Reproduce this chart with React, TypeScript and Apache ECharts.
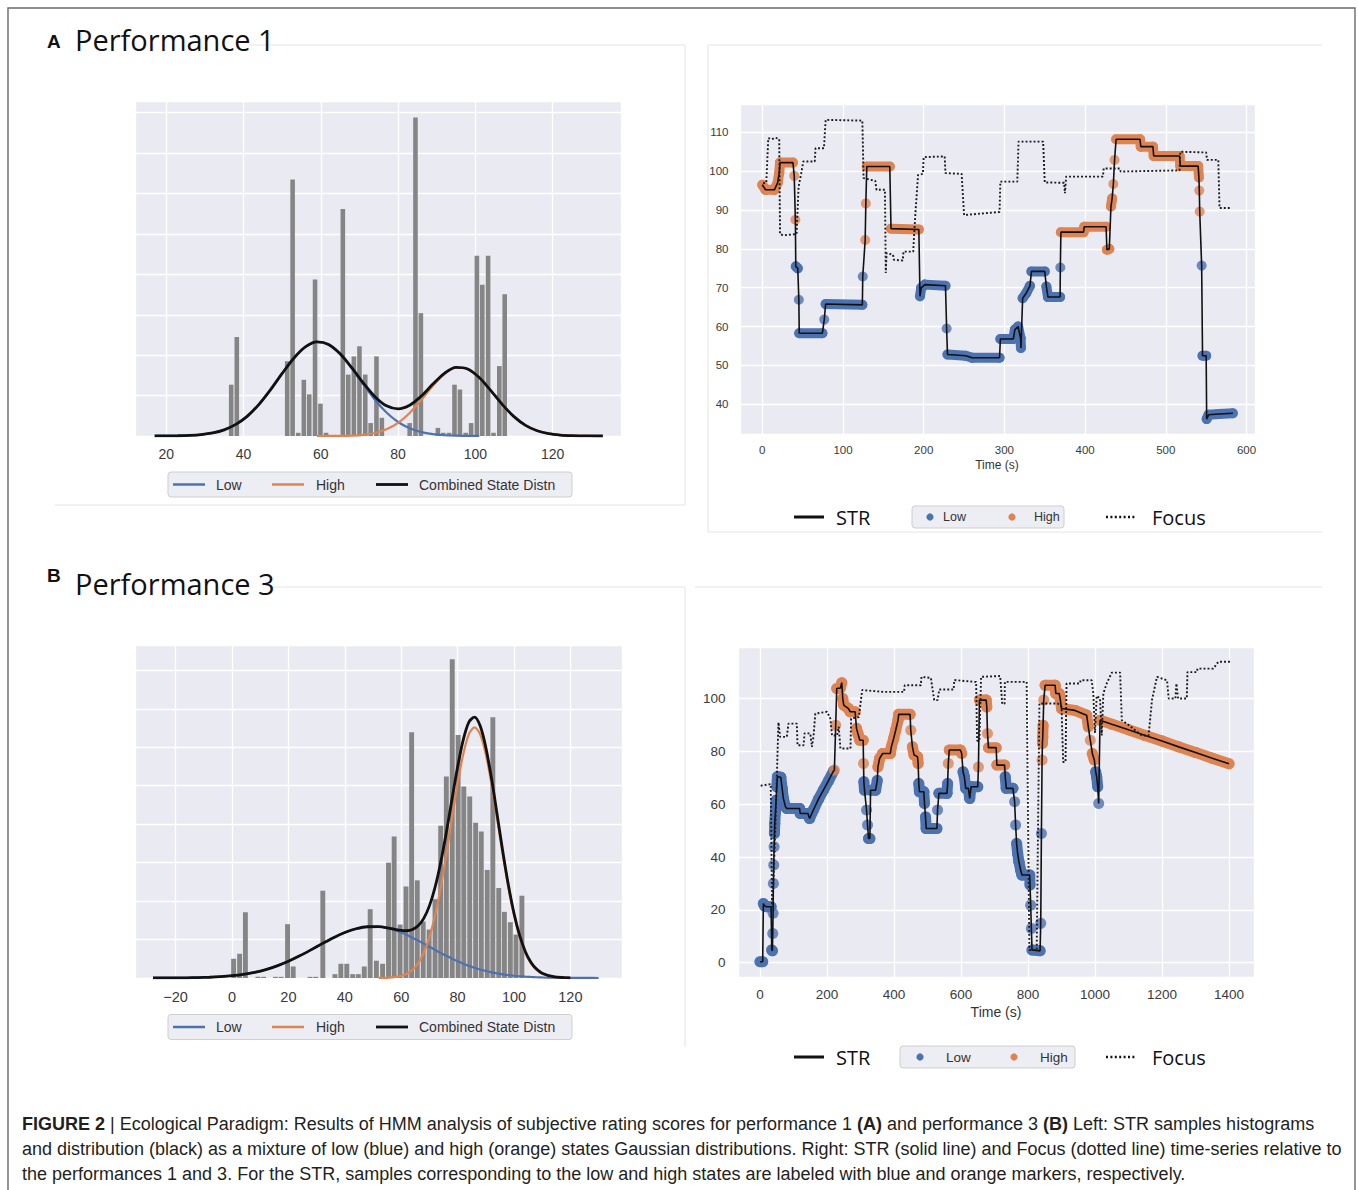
import React, { useEffect, useRef } from "react";
import * as echarts from "echarts";

// ---------------- Panel A (performance 1) histogram ----------------
const HIST1_BIN = 1.445;
const HIST1_X = [36.8, 38.25, 51.3, 52.7, 54.15, 55.6, 57.0, 58.5, 59.9, 61.35, 65.7, 67.1, 68.55, 70.0, 71.5, 72.9, 74.4, 75.8, 83.0, 84.5, 85.9, 90.3, 91.7, 93.2, 94.6, 96.0, 97.5, 98.9, 100.4, 101.8, 103.3, 104.7, 106.2, 107.6];
const HIST1_H = [1.27, 2.45, 1.85, 6.35, 0.08, 1.39, 1.03, 3.87, 0.8, 0.08, 5.62, 1.52, 1.97, 2.22, 1.52, 0.32, 1.97, 0.45, 0.32, 7.88, 3.04, 0.2, 0.08, 0.08, 1.27, 1.15, 0.08, 0.32, 4.46, 3.74, 4.46, 0.08, 1.73, 3.51];

const CURVE1_X = [17, 20, 23, 26, 29, 32, 35, 38, 41, 44, 47, 50, 53, 56, 59, 62, 65, 68, 71, 74, 77, 80, 83, 86, 89, 92, 95, 98, 101, 104, 107, 110, 113, 116, 119, 122, 125, 128, 131, 133];
const LOW1_X = [17, 20, 23, 26, 29, 32, 35, 38, 41, 44, 47, 50, 53, 56, 59, 62, 65, 68, 71, 74, 77, 80, 83, 86, 89, 92, 95, 98, 101];
const LOW1 = [0.0007, 0.002, 0.0056, 0.0144, 0.034, 0.075, 0.153, 0.287, 0.493, 0.784, 1.147, 1.548, 1.924, 2.204, 2.327, 2.265, 2.031, 1.679, 1.279, 0.898, 0.581, 0.346, 0.19, 0.096, 0.045, 0.019, 0.0077, 0.0028, 0.0009];
const HIGH1_X = [59, 62, 65, 68, 71, 74, 77, 80, 83, 86, 89, 92, 95, 98, 101, 104, 107, 110, 113, 116, 119, 122, 125, 128, 131, 133];
const HIGH1 = [0.0002, 0.001, 0.0034, 0.0108, 0.03, 0.075, 0.165, 0.325, 0.571, 0.891, 1.239, 1.533, 1.689, 1.656, 1.447, 1.125, 0.778, 0.48, 0.263, 0.129, 0.056, 0.0217, 0.0075, 0.0023, 0.0006, 0.0002];
const COMB1 = [0.0007, 0.002, 0.0056, 0.0144, 0.034, 0.075, 0.153, 0.287, 0.493, 0.784, 1.147, 1.548, 1.924, 2.204, 2.327, 2.266, 2.034, 1.69, 1.309, 0.973, 0.746, 0.671, 0.761, 0.987, 1.284, 1.552, 1.697, 1.659, 1.448, 1.125, 0.778, 0.48, 0.263, 0.129, 0.056, 0.022, 0.0075, 0.0023, 0.0006, 0.0002];

// ---------------- Panel B (performance 3) histogram ----------------
const HIST2_BIN = 2.07;
const HIST2_X = [0.57, 2.69, 4.75, 9.2, 11.2, 15.4, 17.4, 19.7, 21.7, 27.7, 29.7, 32.2, 36.5, 38.6, 40.7, 42.8, 44.8, 46.9, 49.0, 51.2, 53.4, 55.5, 57.5, 59.6, 61.7, 63.7, 65.7, 67.8, 69.9, 72.0, 74.0, 76.0, 78.1, 80.2, 82.2, 84.3, 86.4, 88.4, 90.5, 92.5, 94.6, 96.6, 98.7, 100.7, 102.8];
const HIST2_H = [0.5, 0.63, 1.71, 0.03, 0.03, 0.03, 0.03, 1.4, 0.3, 0.03, 0.03, 2.27, 0.1, 0.37, 0.37, 0.1, 0.1, 0.3, 1.79, 0.45, 0.37, 3.0, 3.68, 1.39, 2.38, 6.39, 2.54, 1.47, 1.26, 2.05, 3.96, 5.24, 8.29, 6.32, 4.98, 4.72, 4.04, 3.81, 2.81, 6.78, 2.34, 1.72, 1.45, 1.13, 2.14];

const COMB2_X = [-28, -24, -20, -16, -12, -8, -4, 0, 4, 8, 12, 16, 20, 24, 28, 32, 36, 40, 44, 48, 52, 56, 60, 62, 64, 66, 68, 70, 72, 74, 76, 78, 80, 82, 84, 86, 88, 90, 92, 94, 96, 98, 100, 102, 104, 106, 108, 110, 114, 118, 120];
const COMB2 = [0.0007, 0.0014, 0.0029, 0.0058, 0.011, 0.02, 0.035, 0.059, 0.095, 0.148, 0.22, 0.316, 0.435, 0.576, 0.732, 0.894, 1.049, 1.182, 1.281, 1.333, 1.335, 1.292, 1.236, 1.229, 1.26, 1.356, 1.55, 1.876, 2.358, 3.001, 3.784, 4.646, 5.486, 6.193, 6.654, 6.785, 6.558, 6.002, 5.199, 4.262, 3.303, 2.424, 1.685, 1.109, 0.691, 0.41, 0.231, 0.125, 0.033, 0.0087, 0.0038];
const LOW2_X = [-28, -24, -20, -16, -12, -8, -4, 0, 4, 8, 12, 16, 20, 24, 28, 32, 36, 40, 44, 48, 52, 56, 60, 62, 64, 66, 68, 70, 72, 74, 76, 78, 80, 82, 84, 86, 88, 90, 92, 94, 96, 98, 100, 102, 104, 106, 108, 110, 114, 118, 122, 126, 130];
const LOW2 = [0.0007, 0.0014, 0.0029, 0.0058, 0.011, 0.02, 0.035, 0.059, 0.095, 0.148, 0.22, 0.316, 0.435, 0.576, 0.732, 0.894, 1.049, 1.182, 1.281, 1.333, 1.333, 1.281, 1.182, 1.119, 1.049, 0.973, 0.894, 0.813, 0.732, 0.652, 0.576, 0.503, 0.435, 0.372, 0.316, 0.265, 0.22, 0.181, 0.148, 0.119, 0.095, 0.075, 0.059, 0.046, 0.035, 0.027, 0.02, 0.015, 0.008, 0.0041, 0.002, 0.001, 0.0004];
const HIGH2_X = [52, 56, 60, 62, 64, 66, 68, 70, 72, 74, 76, 78, 80, 82, 84, 86, 88, 90, 92, 94, 96, 98, 100, 102, 104, 106, 108, 110, 114, 118, 120];
const HIGH2 = [0.0018, 0.011, 0.054, 0.11, 0.211, 0.383, 0.656, 1.063, 1.626, 2.349, 3.208, 4.143, 5.051, 5.821, 6.338, 6.52, 6.338, 5.821, 5.051, 4.143, 3.208, 2.349, 1.626, 1.063, 0.656, 0.383, 0.211, 0.11, 0.025, 0.0046, 0.0018];

// ---------------- Panel A time series ----------------
const STR1_T = [0, 4, 15, 19, 21, 22, 38, 39.6, 41, 41.5, 44, 45.3, 45.8, 74.5, 76.8, 78.5, 124, 124.5, 127.5, 128.3, 129.5, 158, 159.5, 194, 195.4, 197, 201.6, 227, 228.4, 229.5, 252, 260, 294, 295, 311, 313, 317, 320, 320.5, 322.6, 327, 331.7, 333.5, 350, 352, 354, 369, 369.3, 370, 398, 399, 426, 427, 430, 432, 433.5, 435, 436.5, 438.4, 468, 469, 484, 485, 517, 518, 540, 541, 541.5, 542, 544.4, 545.5, 550, 550.6, 553, 566, 583];
const STR1_V = [96.5, 95.2, 95.2, 97, 99.5, 102.2, 102.2, 98.8, 87.5, 75.5, 75, 66.9, 58.3, 58.3, 61.8, 65.8, 65.6, 72.9, 82.3, 91.7, 101.2, 101.2, 85.2, 85, 67.8, 70, 70.8, 70.5, 59.5, 52.8, 52.5, 52, 52, 56.8, 56.8, 59.2, 60, 57, 54.5, 67.3, 68.6, 70.5, 74.2, 74.2, 70.3, 67.6, 67.6, 75.2, 84.3, 84.3, 85.7, 85.7, 79.8, 80, 90.9, 93, 96.7, 102.9, 108.2, 108.2, 106.3, 106.3, 103.9, 103.9, 101.3, 101.3, 98.4, 95, 89.6, 75.7, 52.5, 52.5, 36.2, 37.3, 37.5, 37.7];
// state of each STR sample: 0 = low, 1 = high
const STR1_S = [
  1, 1, 1, 1, 1, 1, 1, 1, 1,
  0, 0, 0, 0, 0, 0, 0, 0, 0,
  1, 1, 1, 1, 1, 1,
  0, 0, 0, 0, 0, 0, 0, 0, 0, 0, 0, 0, 0, 0, 0, 0, 0, 0, 0, 0, 0, 0, 0, 0,
  1, 1, 1, 1, 1, 1, 1, 1, 1, 1, 1, 1, 1, 1, 1, 1, 1, 1, 1, 1, 1,
  0, 0, 0, 0, 0, 0, 0,
];
const FOCUS1_T = [1, 5, 7.4, 12, 16, 21, 22, 26, 42.5, 45, 48.7, 50.8, 65, 66, 76.4, 78.5, 124, 125.5, 140, 141.5, 152, 153, 154, 162, 163, 174, 175, 187, 190, 193, 199, 200, 226, 227, 247, 250, 294, 295, 316, 317.5, 348, 350, 374, 375, 376.5, 422, 423, 443, 444, 517, 518, 550, 551, 565, 566.5, 581];
const FOCUS1_V = [96.9, 97, 108.5, 108.2, 108.6, 108.3, 83.8, 83.5, 83.8, 96, 99.9, 102.5, 102.5, 105.9, 105.9, 113.2, 113, 98.2, 97.5, 95.2, 95.2, 73.8, 78.9, 78.5, 77.2, 77, 79.3, 79.3, 90, 99, 99.3, 103.6, 103.8, 99.5, 99.3, 88.7, 89.5, 97.3, 97.3, 107.6, 107.6, 97.1, 97, 94.3, 98.6, 98.6, 100.7, 100.7, 99.9, 100.2, 105, 104.8, 102.9, 102.9, 90.5, 90.5];

// ---------------- Panel B time series ----------------
const STR2_T = [
  0, 8, 10, 14, 20, 33, 35, 37, 38, 39, 40, 41, 42, 43, 44, 46, 48, 50, 52, 62, 66, 70, 76, 80, 118, 120, 143, 148, 160, 175, 190, 205, 219,
  222, 226, 229, 240, 244, 247, 250, 264, 269, 284, 288, 292, 298, 308, 309,
  310, 312, 318, 321, 324, 328, 330, 345, 350,
  352, 357, 366, 389, 392, 399, 405, 412, 414, 448, 450, 455, 460, 470, 472,
  474, 476, 489, 491, 494, 496, 528, 530, 534, 558, 560,
  562, 565, 598, 602,
  606, 610, 614, 622, 626, 630, 650,
  652, 655, 675, 677, 679, 682, 705, 707, 730,
  732, 735, 755, 760, 763, 766, 769, 773, 778, 782, 805, 806, 808, 810, 812, 836, 838, 840,
  842, 843, 844, 845, 847, 851, 881, 883, 893, 896, 900, 940, 975, 980, 986, 992, 998,
  1002, 1005, 1008, 1011,
  1015, 1050, 1100, 1150, 1200, 1250, 1300, 1350, 1400,
];
const STR2_V = [
  0.4, 0.4, 22.4, 21.5, 21.2, 21.2, 4.8, 4.5, 11.1, 18.7, 30, 37, 43.9, 48.9, 52.7, 57.1, 61.5, 66.6, 70.4, 70.2, 66, 62, 59, 58.4, 58.4, 56.5, 56.5, 54.6, 58, 62, 65.5, 69, 72.5,
  72.9, 89.9, 103.8, 104, 106, 100, 97.5, 96.2, 95, 95, 88.7, 86.8, 84.2, 84.2, 75.4,
  68.5, 65.3, 57.8, 52.1, 47, 47, 65.3, 65.3, 69,
  74.1, 77.3, 79.2, 79.2, 81.7, 84.9, 88, 91.8, 94, 94, 88, 81.7, 78.6, 78, 75.4,
  67.8, 64.7, 64.7, 60.3, 55.2, 50.8, 50.8, 57.8, 64.1, 64.1, 67.8,
  75.4, 80.5, 80.5, 79.2,
  72.3, 70.4, 66, 66, 62.2, 66.6, 66.6,
  74.1, 99.4, 99.4, 96.8, 86.8, 81.4, 81.4, 74.8, 74.8,
  70.4, 66, 66, 60.9, 52.1, 45.1, 41.4, 38.2, 35.1, 33.2, 33.2, 29.4, 21.8, 13, 4.8, 4.5, 14.9, 48.9,
  76.7, 83, 85.5, 89.9, 99.4, 105, 105, 101.9, 101.9, 100, 96.2, 95.5, 93.7, 89.3, 84.2, 79.2, 76.7,
  72.3, 70.4, 66.6, 60.3,
  91.8, 90.3, 88.2, 86, 83.9, 81.7, 79.6, 77.4, 75.3,
];
const STR2_S = [
  0, 0, 0, 0, 0, 0, 0, 0, 0, 0, 0, 0, 0, 0, 0, 0, 0, 0, 0, 0, 0, 0, 0, 0, 0, 0, 0, 0, 0, 0, 0, 0, 0,
  1, 1, 1, 1, 1, 1, 1, 1, 1, 1, 1, 1, 1, 1, 1,
  0, 0, 0, 0, 0, 0, 0, 0, 0,
  1, 1, 1, 1, 1, 1, 1, 1, 1, 1, 1, 1, 1, 1, 1,
  0, 0, 0, 0, 0, 0, 0, 0, 0, 0, 0,
  1, 1, 1, 1,
  0, 0, 0, 0, 0, 0, 0,
  1, 1, 1, 1, 1, 1, 1, 1, 1,
  0, 0, 0, 0, 0, 0, 0, 0, 0, 0, 0, 0, 0, 0, 0, 0, 0, 0,
  1, 1, 1, 1, 1, 1, 1, 1, 1, 1, 1, 1, 1, 1, 1, 1, 1,
  0, 0, 0, 0,
  1, 1, 1, 1, 1, 1, 1, 1, 1,
];
const FOCUS2_T = [2, 32, 36, 40, 48, 52, 55, 60, 80, 85, 110, 112, 130, 133, 150, 155, 160, 165, 200, 210, 215, 230, 235, 240, 270, 272, 295, 305, 370, 430, 432, 480, 482, 510, 520, 530, 535, 578, 580, 640, 645, 648, 655, 660, 717, 723, 730, 731, 796, 804, 826, 834, 889, 900, 905, 912, 915, 955, 957, 990, 995, 1000, 1005, 1015, 1020, 1025, 1035, 1050, 1075, 1080, 1100, 1120, 1140, 1160, 1170, 1185, 1215, 1220, 1240, 1243, 1248, 1274, 1276, 1304, 1306, 1353, 1368, 1403];
const FOCUS2_V = [67, 67.6, 21, 30, 60, 78, 91, 85.5, 85.5, 90.5, 90.5, 82.3, 82.3, 86.8, 86.8, 81.7, 86, 94.3, 95, 92.4, 86, 86, 89.3, 81.1, 81.1, 92.4, 93, 103.2, 102.5, 102.5, 105, 105, 108.2, 107.8, 99.4, 99.4, 103.4, 103.4, 107, 106.3, 106.3, 84, 84, 108.2, 108.5, 98, 98, 106.3, 106.3, 4.8, 4.8, 98.1, 98.1, 97, 76, 76, 105.7, 105.7, 106.9, 106.9, 101.9, 87, 101, 100, 86, 102, 105.7, 109.8, 109.8, 91.8, 90, 88, 86, 86, 99.4, 108.2, 106.9, 100, 100, 105.7, 100, 100, 110, 110, 111.3, 111.3, 113.9, 113.9];

// ---------------- Text ----------------
const HIST_LEGEND = ["Low", "High", "Combined State Distn"];
const CAPTION = [
  "{b|FIGURE 2} | Ecological Paradigm: Results of HMM analysis of subjective rating scores for performance 1 {b|(A)} and performance 3 {b|(B)} Left: STR samples histograms",
  "and distribution (black) as a mixture of low (blue) and high (orange) states Gaussian distributions. Right: STR (solid line) and Focus (dotted line) time-series relative to",
  "the performances 1 and 3. For the STR, samples corresponding to the low and high states are labeled with blue and orange markers, respectively.",
];

// ---------------- Styles ----------------
const BLUE = "#4C72B0";
const ORANGE = "#DD8452";
const BG = "#EAEAF2";
const BAR = "#858585";
const TICK = "#3a3a3a";
const SANS = "'Liberation Sans', Arial, Helvetica, sans-serif";
const HUM = "'Open Sans', 'Noto Sans', sans-serif";
const CAP_SIZE = 18;

const zip = (xs: number[], ys: number[]) => xs.map((x, i) => [x, ys[i]]);

function histRender(halfW: number) {
  return (_p: any, api: any) => {
    const c = api.value(0);
    const h = api.value(1);
    const a = api.coord([c - halfW, 0]);
    const b = api.coord([c + halfW, h]);
    return {
      type: "rect",
      shape: { x: a[0], y: b[1], width: b[0] - a[0], height: a[1] - b[1] },
      style: { fill: BAR },
    };
  };
}

function bandData(T: number[], V: number[], S: number[]) {
  const out: number[][] = [];
  for (let i = 0; i < T.length - 1; i++) {
    if (S[i] === S[i + 1]) out.push([T[i], V[i], T[i + 1], V[i + 1], S[i]]);
  }
  return out;
}

function bandRender(width: number) {
  return (_p: any, api: any) => {
    const p0 = api.coord([api.value(0), api.value(1)]);
    const p1 = api.coord([api.value(2), api.value(3)]);
    const dx = Math.abs(p1[0] - p0[0]);
    const dy = Math.abs(p1[1] - p0[1]);
    if (dy > Math.max(12, 2.2 * dx)) return { type: "group", children: [] };
    return {
      type: "line",
      shape: { x1: p0[0], y1: p0[1], x2: p1[0], y2: p1[1] },
      style: { stroke: api.value(4) ? ORANGE : BLUE, lineWidth: width, lineCap: "round" },
    };
  };
}

function pick(T: number[], V: number[], S: number[], s: number) {
  const out: number[][] = [];
  T.forEach((t, i) => {
    if (S[i] === s) out.push([t, V[i]]);
  });
  return out;
}

const minus = (v: number) => (v < 0 ? "\u2212" + Math.abs(v) : String(v));

function axis(gridIndex: number, min: number, max: number, step: number, label: any) {
  return {
    type: "value",
    gridIndex,
    min,
    max,
    minInterval: step,
    maxInterval: step,
    axisLine: { show: false },
    axisTick: { show: false },
    splitLine: { show: true, lineStyle: { color: "#ffffff", width: 1.3 } },
    axisLabel: label
      ? { show: true, showMinLabel: false, showMaxLabel: false, color: TICK, fontFamily: SANS, formatter: minus, ...label }
      : { show: false },
  };
}

function txt(x: number, y: number, text: string, size: number, o: any = {}) {
  return {
    type: "text",
    x,
    y,
    style: {
      text,
      fontSize: size,
      fontFamily: o.family || SANS,
      fontWeight: o.weight || "normal",
      fill: o.fill || "#333",
      align: o.align || "left",
      verticalAlign: "middle",
      textAlign: o.align || "left",
      textVerticalAlign: "middle",
      rich: o.rich,
    },
  };
}

function seg(x1: number, y1: number, x2: number, y2: number, stroke: string, lineWidth: number, dash?: number[]) {
  return {
    type: "line",
    shape: { x1, y1, x2, y2 },
    style: { stroke, lineWidth, lineDash: dash || null, lineCap: "butt" },
  };
}

function histLegend(y: number) {
  const els: any[] = [
    { type: "rect", shape: { x: 168, y: y - 12.5, width: 404, height: 25, r: 3 }, style: { fill: "rgba(234,234,242,0.85)", stroke: "#cfcfcf", lineWidth: 1 } },
    seg(173, y, 205, y, BLUE, 2.5),
    txt(216, y, HIST_LEGEND[0], 14),
    seg(272, y, 304, y, ORANGE, 2.5),
    txt(316, y, HIST_LEGEND[1], 14),
    seg(376, y, 408, y, "#111", 2.8),
    txt(419, y, HIST_LEGEND[2], 14),
  ];
  return els;
}

function tsLegend(y: number, box: number[], dots: number[], texts: number[], small: number) {
  return [
    seg(794, y, 824, y, "#111", 3),
    txt(836, y, "STR", 20, { family: HUM, fill: "#111" }),
    { type: "rect", shape: { x: box[0], y: y - 11, width: box[1] - box[0], height: 22, r: 3 }, style: { fill: "rgba(234,234,242,0.85)", stroke: "#cfcfcf", lineWidth: 1 } },
    { type: "circle", shape: { cx: dots[0], cy: y, r: 3.6 }, style: { fill: BLUE } },
    txt(texts[0], y, "Low", small),
    { type: "circle", shape: { cx: dots[1], cy: y, r: 3.6 }, style: { fill: ORANGE } },
    txt(texts[1], y, "High", small),
    seg(1106, y, 1135, y, "#111", 2.6, [2, 2.4]),
    txt(1152, y, "Focus", 20, { family: HUM, fill: "#111" }),
  ];
}

function buildOption(): any {
  const capRich = { b: { fontWeight: "bold", fontSize: CAP_SIZE, fontFamily: SANS, fill: "#231f20" } };
  const graphic: any[] = [
    { type: "rect", shape: { x: 8, y: 8, width: 1347, height: 1200 }, style: { fill: "none", stroke: "#6a6a6a", lineWidth: 1.4 } },
    // faint panel frames
    seg(250, 45, 685, 45, "#e4e4e4", 1),
    seg(685, 45, 685, 505, "#e4e4e4", 1),
    seg(55, 505, 685, 505, "#e4e4e4", 1),
    seg(708, 45, 1322, 45, "#e4e4e4", 1),
    seg(708, 45, 708, 532, "#e4e4e4", 1),
    seg(708, 532, 1322, 532, "#e4e4e4", 1),
    seg(270, 587, 685, 587, "#e4e4e4", 1),
    seg(685, 587, 685, 1047, "#e4e4e4", 1),
    seg(695, 587, 1322, 587, "#e4e4e4", 1),
    // titles
    txt(47, 41, "A", 19, { weight: "bold", fill: "#111" }),
    txt(75, 39, "Performance 1", 29, { family: HUM, fill: "#111" }),
    txt(47, 575, "B", 19, { weight: "bold", fill: "#111" }),
    txt(75, 583, "Performance 3", 29, { family: HUM, fill: "#111" }),
    // axis titles
    txt(997, 465, "Time (s)", 12, { align: "center" }),
    txt(996, 1012, "Time (s)", 14, { align: "center" }),
    ...histLegend(484.5),
    ...histLegend(1027),
    ...tsLegend(517, [912, 1064], [930, 1012], [943, 1034], 12.5),
    ...tsLegend(1057, [900, 1075], [920, 1014], [946, 1040], 13.5),
    // caption
    txt(22, 1124, CAPTION[0], CAP_SIZE, { fill: "#231f20", rich: capRich }),
    txt(22, 1149, CAPTION[1], CAP_SIZE, { fill: "#231f20", rich: capRich }),
    txt(22, 1174, CAPTION[2], CAP_SIZE, { fill: "#231f20", rich: capRich }),
  ];

  const gridBase = { show: true, backgroundColor: BG, borderWidth: 0 };
  const series: any[] = [
    // ---- A histogram ----
    { type: "custom", xAxisIndex: 0, yAxisIndex: 0, data: zip(HIST1_X, HIST1_H), renderItem: histRender(HIST1_BIN * 0.41), z: 1, silent: true },
    { type: "line", xAxisIndex: 0, yAxisIndex: 0, data: zip(LOW1_X, LOW1), showSymbol: false, smooth: 0.3, lineStyle: { color: BLUE, width: 2.2 }, z: 3, silent: true },
    { type: "line", xAxisIndex: 0, yAxisIndex: 0, data: zip(HIGH1_X, HIGH1), showSymbol: false, smooth: 0.3, lineStyle: { color: ORANGE, width: 2.2 }, z: 4, silent: true },
    { type: "line", xAxisIndex: 0, yAxisIndex: 0, data: zip(CURVE1_X, COMB1), showSymbol: false, smooth: 0.3, lineStyle: { color: "#111", width: 2.8 }, z: 5, silent: true },
    // ---- B histogram ----
    { type: "custom", xAxisIndex: 2, yAxisIndex: 2, data: zip(HIST2_X, HIST2_H), renderItem: histRender(HIST2_BIN * 0.42), z: 1, silent: true },
    { type: "line", xAxisIndex: 2, yAxisIndex: 2, data: zip(LOW2_X, LOW2), showSymbol: false, smooth: 0.3, lineStyle: { color: BLUE, width: 2.2 }, z: 3, silent: true },
    { type: "line", xAxisIndex: 2, yAxisIndex: 2, data: zip(HIGH2_X, HIGH2), showSymbol: false, smooth: 0.3, lineStyle: { color: ORANGE, width: 2.2 }, z: 4, silent: true },
    { type: "line", xAxisIndex: 2, yAxisIndex: 2, data: zip(COMB2_X, COMB2), showSymbol: false, smooth: 0.3, lineStyle: { color: "#111", width: 2.8 }, z: 5, silent: true },
  ];

  const tsSeries = (ax: number, T: number[], V: number[], S: number[], FT: number[], FV: number[], size: number) => [
    { type: "custom", xAxisIndex: ax, yAxisIndex: ax, data: bandData(T, V, S), encode: { x: [0, 2], y: [1, 3] }, renderItem: bandRender(size), z: 2, silent: true },
    { type: "scatter", xAxisIndex: ax, yAxisIndex: ax, data: pick(T, V, S, 0), symbolSize: size, itemStyle: { color: BLUE }, z: 3, silent: true },
    { type: "scatter", xAxisIndex: ax, yAxisIndex: ax, data: pick(T, V, S, 1), symbolSize: size, itemStyle: { color: ORANGE }, z: 3, silent: true },
    { type: "line", xAxisIndex: ax, yAxisIndex: ax, data: zip(T, V), showSymbol: false, lineStyle: { color: "#111", width: 1.6 }, z: 4, silent: true },
    { type: "line", xAxisIndex: ax, yAxisIndex: ax, data: zip(FT, FV), showSymbol: false, lineStyle: { color: "#1a1a1a", width: 1.9, type: [1.9, 2.1] }, z: 5, silent: true },
  ];
  series.push(...tsSeries(1, STR1_T, STR1_V, STR1_S, FOCUS1_T, FOCUS1_V, 10));
  series.push(...tsSeries(3, STR2_T, STR2_V, STR2_S, FOCUS2_T, FOCUS2_V, 11));

  return {
    animation: false,
    backgroundColor: "#ffffff",
    grid: [
      { left: 135, top: 101, width: 486, height: 335, ...gridBase },
      { left: 740, top: 104, width: 515, height: 330, ...gridBase },
      { left: 135, top: 645, width: 487, height: 333, ...gridBase },
      { left: 738, top: 647, width: 516, height: 330, ...gridBase },
    ],
    xAxis: [
      axis(0, 11.9, 137.7, 20, { fontSize: 14, margin: 11 }),
      axis(1, -27.6, 610.5, 100, { fontSize: 11.5, margin: 10 }),
      axis(2, -34.4, 138.3, 20, { fontSize: 14.5, margin: 11.5 }),
      axis(3, -65.7, 1474.6, 200, { fontSize: 13.5, margin: 10 }),
    ],
    yAxis: [
      axis(0, 0, 8.29, 1, null),
      axis(1, 32.36, 117.28, 10, { fontSize: 11.5, margin: 11.5 }),
      axis(2, 0, 8.66, 1, null),
      axis(3, -5.4, 119.5, 20, { fontSize: 13.5, margin: 12.5 }),
    ],
    series,
    graphic: { elements: graphic },
  };
}

export default function App() {
  const ref = useRef<HTMLDivElement>(null);
  useEffect(() => {
    const chart = echarts.init(ref.current as HTMLDivElement, null, { renderer: "svg" });
    chart.setOption(buildOption());
    return () => chart.dispose();
  }, []);
  return (
    <div
      ref={ref}
      style={{ position: "absolute", left: 0, top: 0, width: 1358, height: 1190, background: "#fff" }}
    />
  );
}
